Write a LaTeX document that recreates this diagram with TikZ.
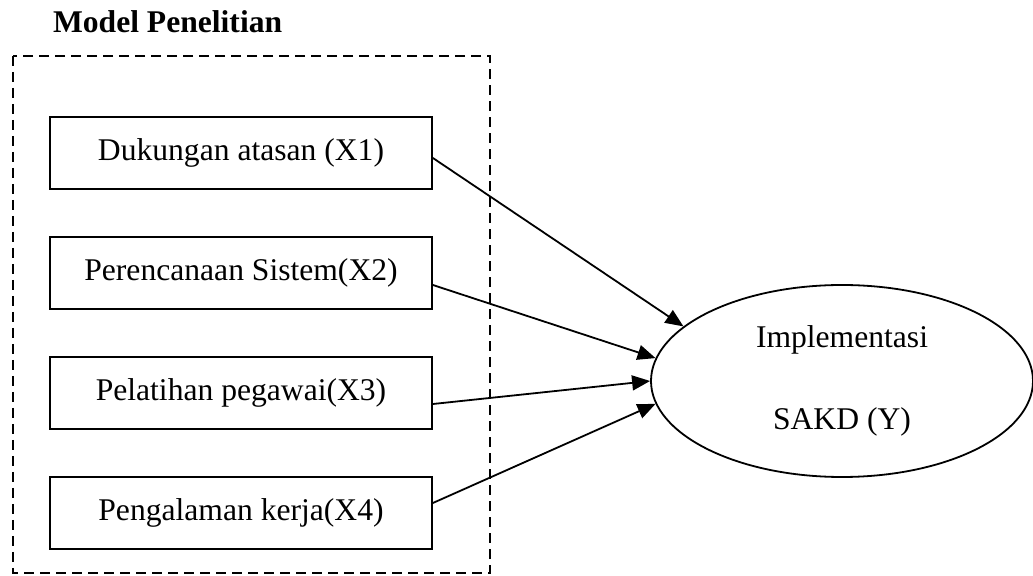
\documentclass[tikz,border=0pt]{standalone}
\usepackage{fontspec}
\setmainfont{Liberation Serif}
\usetikzlibrary{positioning, shapes.geometric, arrows.meta}

\begin{document}
\begin{tikzpicture}[
  x=0.5pt, y=-0.5pt,
  font=\fontsize{15.8}{19}\selectfont,
  varbox/.style={
    draw, line width=0.9pt, minimum width=191pt, minimum height=36pt,
    inner sep=0pt
  },
  target/.style={
    ellipse, draw, line width=0.9pt, minimum width=191pt, minimum height=96pt,
    align=center, inner sep=0pt,
    font=\fontsize{15.8}{41}\selectfont
  },
  judul/.style={font=\fontsize{15.8}{19}\selectfont\bfseries, anchor=base west},
  frame/.style={draw, line width=0.9pt, dash pattern=on 5pt off 3pt},
  panah/.style={line width=0.9pt, -{Triangle[length=9pt, width=7.5pt]}},
]
  \useasboundingbox (0,0) rectangle (1033,576);

  % --- Judul dan bingkai ---
  \node[judul] (title) at (46,33) {Model Penelitian};
  \draw[frame] (13,56) rectangle (490,573);

  % --- Variabel bebas ---
  \node[varbox] (x1) at (241,153) {Dukungan atasan (X1)};
  \node[varbox] (x2) at (241,273) {Perencanaan Sistem(X2)};
  \node[varbox] (x3) at (241,393) {Pelatihan pegawai(X3)};
  \node[varbox] (x4) at (241,513) {Pengalaman kerja(X4)};

  % --- Variabel terikat ---
  \node[target] (y) at (842,381) {Implementasi\\SAKD (Y)};

  % --- Panah ---
  \draw[panah] ([yshift=-2.5pt]x1.east) -- (y.161);
  \draw[panah] ([yshift=-6pt]x2.east) -- (y.173);
  \draw[panah] ([yshift=-5.5pt]x3.east) -- (y.180);
  \draw[panah] ([yshift=5pt]x4.east) -- (y.187);

\end{tikzpicture}
\end{document}
